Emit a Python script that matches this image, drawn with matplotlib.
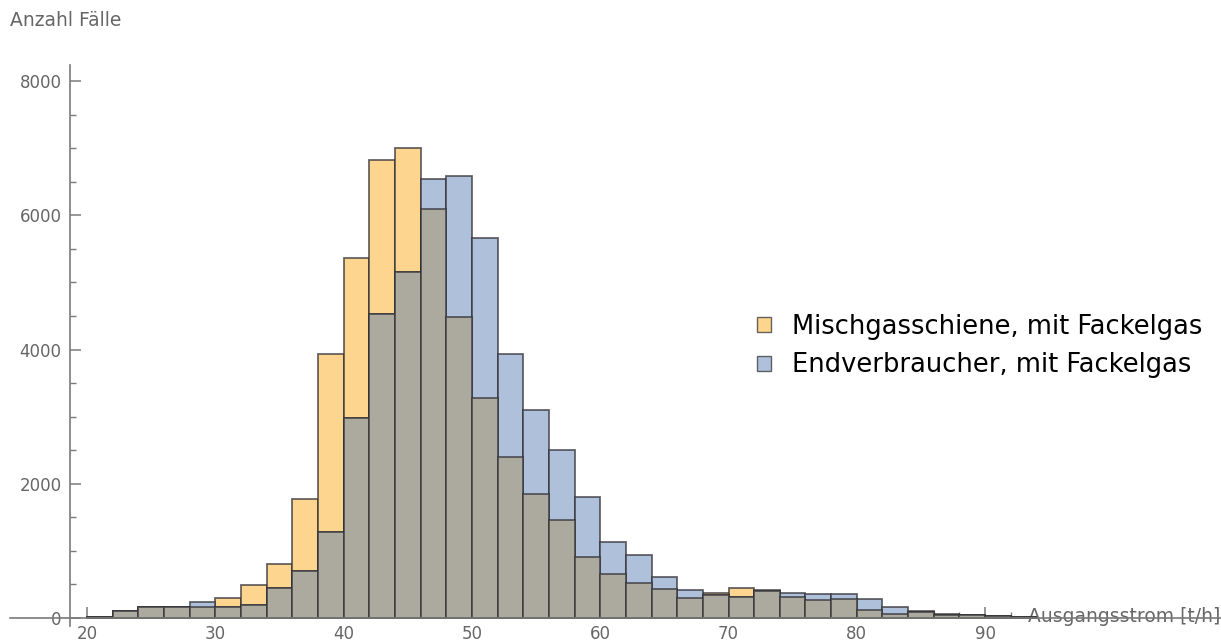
import matplotlib.pyplot as plt
from matplotlib.patches import Patch
import numpy as np

# bin left edges (width 2)
bins = list(range(20, 94, 2))

misch = [20, 100, 160, 160, 160, 300, 490, 800, 1780, 3940,
         5370, 6830, 7010, 6100, 4490, 3280, 2400, 1850, 1460, 905,
         656, 517, 432, 293, 380, 440, 420, 318, 275, 290,
         119, 55, 100, 65, 50, 30, 10]
endv = [15, 100, 170, 160, 240, 170, 200, 450, 700, 1280,
        2980, 4530, 5150, 6540, 6580, 5670, 3935, 3100, 2500, 1800,
        1137, 939, 616, 417, 340, 310, 395, 377, 353, 353,
        279, 168, 90, 50, 50, 30, 10]

labels = ["Mischgasschiene, mit Fackelgas", "Endverbraucher, mit Fackelgas"]

c_orange = "#fdd58e"
c_blue = "#afc0da"
c_both = "#aca99f"
c_edge = (0.2, 0.2, 0.22, 0.75)
c_axis = "#7a7a7a"
c_text = "#666666"

fig = plt.figure(figsize=(12.21, 6.44), dpi=100)
ax = fig.add_axes([0, 0, 1, 1])

# pixel mapping: x=20 -> 87px, 12.83 px per unit; y=0 -> 618px, 0.0671 px per unit
ax.set_xlim(20 - 87 / 12.83, 20 + (1221 - 87) / 12.83)
ax.set_ylim((618 - 644) / 0.0671, 618 / 0.0671)

overlap = np.minimum(misch, endv)
ax.bar(bins, misch, width=2, align="edge", color=c_orange, edgecolor=c_edge, linewidth=1.3, zorder=2)
ax.bar(bins, endv, width=2, align="edge", color=c_blue, edgecolor=c_edge, linewidth=1.3, zorder=2)
ax.bar(bins, overlap, width=2, align="edge", color=c_both, edgecolor=c_edge, linewidth=1.3, zorder=3)

for s in ["top", "right"]:
    ax.spines[s].set_visible(False)
ax.spines["left"].set_position(("data", 18.67))
ax.spines["bottom"].set_position(("data", 0))
ax.spines["left"].set_bounds(-120, 8240)
ax.spines["bottom"].set_bounds(14, 108.4)
for s in ["left", "bottom"]:
    ax.spines[s].set_color(c_axis)
    ax.spines[s].set_linewidth(1.2)
    ax.spines[s].set_zorder(4)

ax.set_xticks(range(20, 100, 10))
ax.set_xticks(range(20, 94, 2), minor=True)
ax.set_yticks(range(0, 8001, 2000))
ax.set_yticks(range(0, 8001, 500), minor=True)
ax.tick_params(axis="both", which="major", direction="in", length=8, width=1.1,
               color=c_axis, labelcolor=c_text, labelsize=12)
ax.tick_params(axis="both", which="minor", direction="in", length=4.5, width=1.0, color=c_axis)
ax.tick_params(axis="x", pad=5)
ax.tick_params(axis="y", pad=6)

fig.text(10 / 1221, 1 - 21 / 644, "Anzahl Fälle", color=c_text, fontsize=13.5,
         ha="left", va="center")
ax.text(108.3, 15, "Ausgangsstrom [t/h]", color=c_text, fontsize=13.5,
        ha="right", va="center", zorder=1)

handles = [Patch(facecolor=c_orange, edgecolor=c_edge, linewidth=1.0),
           Patch(facecolor=c_blue, edgecolor=c_edge, linewidth=1.0)]
fig.legend(handles, labels, loc="center left", bbox_to_anchor=(757 / 1221, 1 - 346 / 644),
           frameon=False, handlelength=0.55, handleheight=0.55,
           handletextpad=0.82, labelspacing=0.5, borderpad=0, borderaxespad=0,
           prop={"family": "DejaVu Sans", "size": 18.5})

fig.savefig("out.png", dpi=100)
